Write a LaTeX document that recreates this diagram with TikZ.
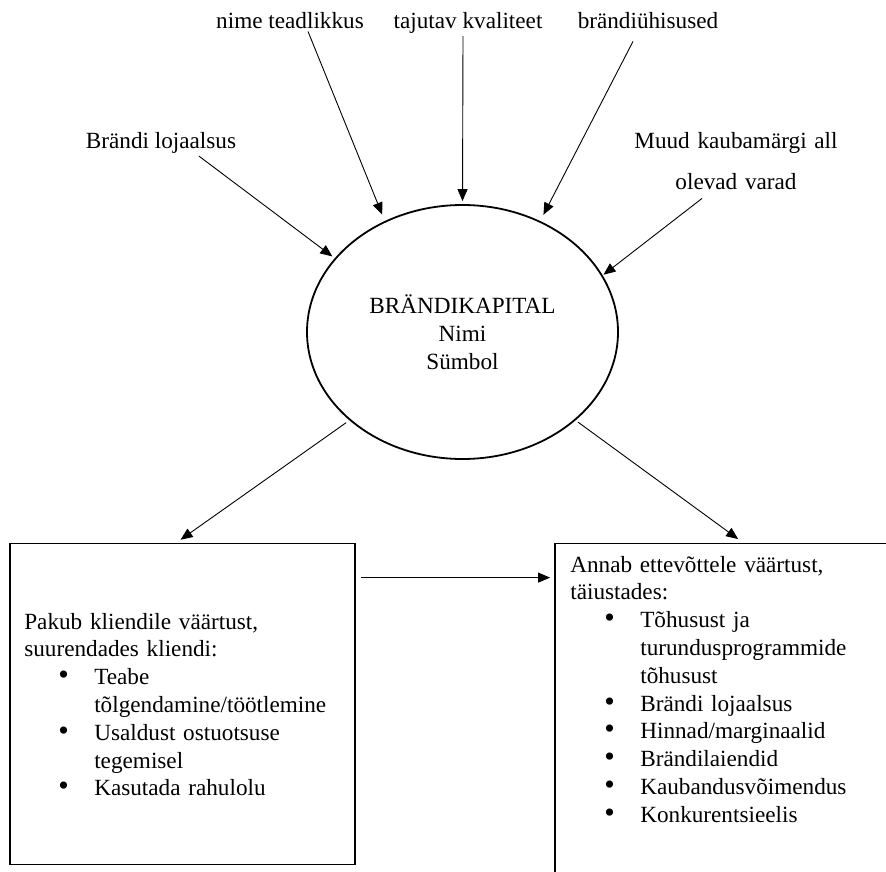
\documentclass[tikz,border=0pt]{standalone}
\usepackage{fontspec}
\setmainfont{Liberation Serif}
\usetikzlibrary{positioning,shapes.geometric,arrows.meta}
\tikzset{
    source/.style={inner sep=2pt, anchor=base},
    hub/.style={ellipse, draw, line width=1.8pt, minimum width=311pt, minimum height=254pt, inner sep=0pt, align=center},
    value box/.style={rectangle, draw, line width=1.8pt},
    box text/.style={anchor=base west, inner sep=0pt, text width=330pt, align=left},
    arr/.style={-{Triangle[length=12pt,width=10pt]}, line width=0.9pt}
}
\newcommand{\punkt}[1]{\hspace*{34pt}\makebox[36pt][l]{{\fontsize{30}{27.8}\selectfont\textbullet}}#1}
\newcommand{\jatk}{\hspace*{70pt}}

\begin{document}
\begin{tikzpicture}[x=1pt, y=-1pt, every node/.style={font=\fontsize{23.2}{27.8}\selectfont}]
    \useasboundingbox (0,0) rectangle (886,872);

    \node[hub] (kapital) at (462.5,332) {BRÄNDIKAPITAL\\Nimi\\Sümbol};

    \node[source] (teadlikkus) at (290,29) {nime teadlikkus};
    \node[source] (kvaliteet) at (468,29) {tajutav kvaliteet};
    \node[source] (uhisused) at (648,29) {brändiühisused};
    \node[source] (lojaalsus) at (161,149) {Brändi lojaalsus};
    \node[source, text width=220pt, align=center] (varad) at (736,149) {Muud kaubamärgi all\\[12.2pt]olevad varad};

    \node[value box, minimum width=345pt, minimum height=321pt] (klient) at (182.5,704) {};
    \node[value box, minimum width=366pt, minimum height=360pt] (ettevote) at (738,723.5) {};

    \node[box text] (kliendiTekst) at ([xshift=15pt,yshift=-86.5pt]klient.north west) {Pakub kliendile väärtust,\\
        suurendades kliendi:\\
        \punkt{Teabe}\\
        \jatk tõlgendamine/töötlemine\\
        \punkt{Usaldust ostuotsuse}\\
        \jatk tegemisel\\
        \punkt{Kasutada rahulolu}};
    \node[box text] (ettevotteTekst) at ([xshift=16pt,yshift=-29.5pt]ettevote.north west) {Annab ettevõttele väärtust,\\
        täiustades:\\
        \punkt{Tõhusust ja}\\
        \jatk turundusprogrammide\\
        \jatk tõhusust\\
        \punkt{Brändi lojaalsus}\\
        \punkt{Hinnad/marginaalid}\\
        \punkt{Brändilaiendid}\\
        \punkt{Kaubandusvõimendus}\\
        \punkt{Konkurentsieelis}};

    \draw[arr, shorten >=7pt] ([xshift=18pt]teadlikkus.south) -- (kapital.125);
    \draw[arr, shorten >=3pt] ([xshift=-5pt]kvaliteet.south) -- (kapital.north);
    \draw[arr, shorten >=7pt] ([xshift=-15pt,yshift=-10pt]uhisused.south) -- (kapital.55);
    \draw[arr, shorten >=3pt] ([xshift=38pt]lojaalsus.south) -- (kapital.150);
    \draw[arr, shorten >=1pt] ([xshift=-34pt,yshift=-7pt]varad.south) -- (kapital.22);
    \draw[arr, shorten <=4pt, shorten >=5pt] (kapital.218) -- ([xshift=-6pt]klient.north);
    \draw[arr, shorten <=3pt, shorten >=6pt] (kapital.322) -- ([xshift=5pt]ettevote.north);
    \draw[arr, shorten <=5pt, shorten >=4pt] ([yshift=-35pt]klient.north east) -- ([yshift=-35pt]ettevote.north west);

\end{tikzpicture}
\end{document}
